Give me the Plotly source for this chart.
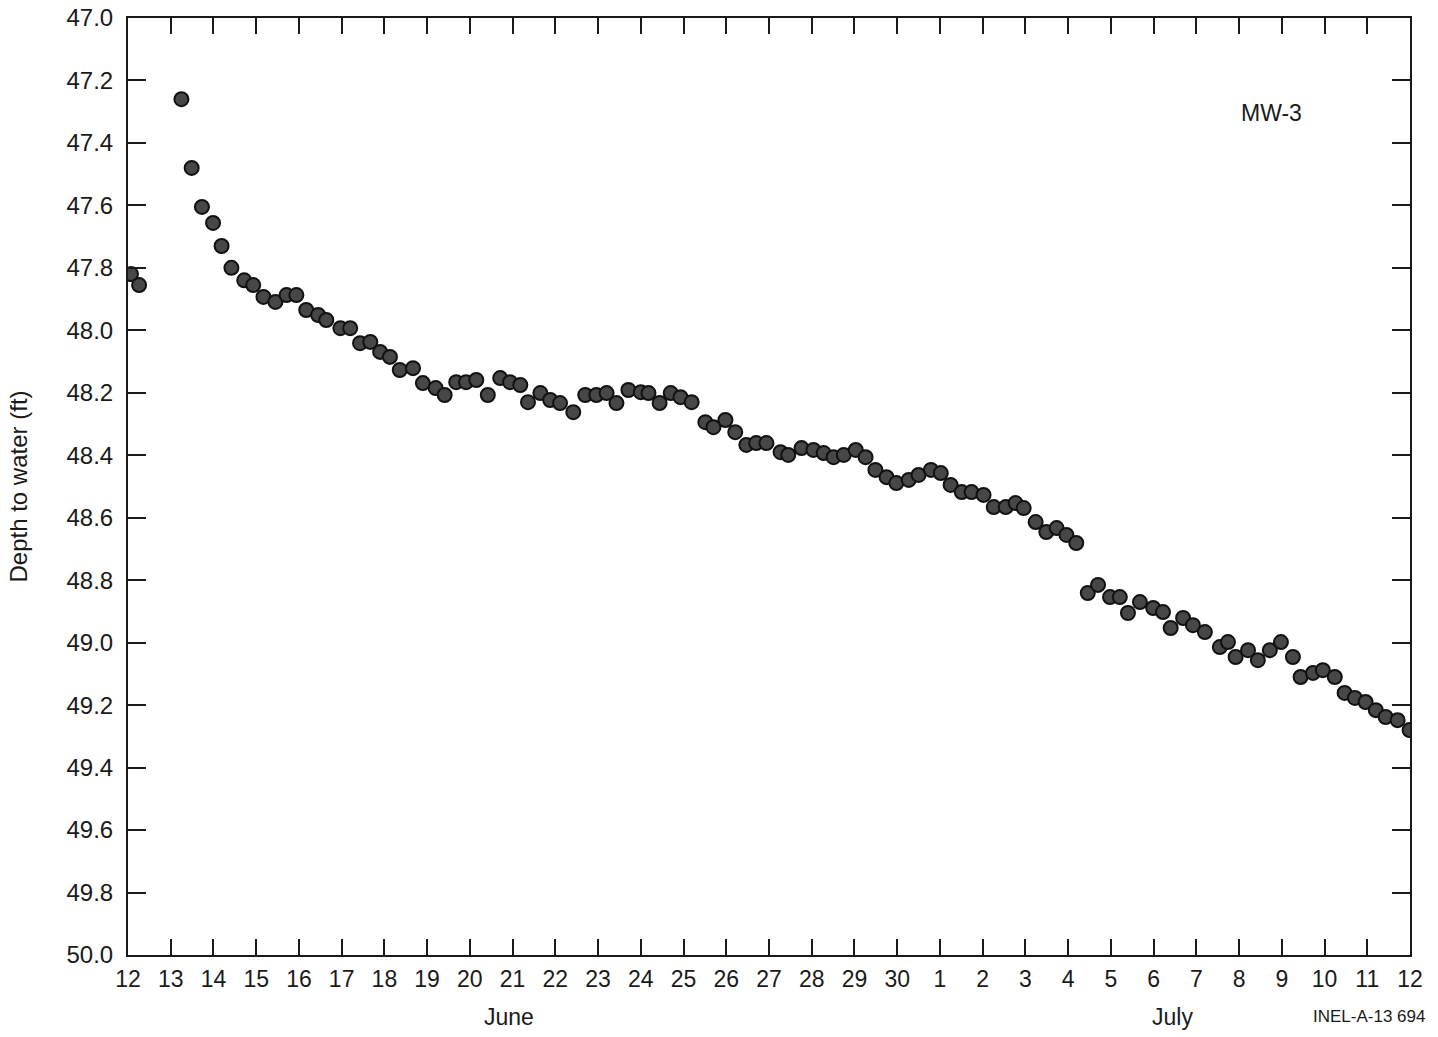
import plotly.graph_objects as go

# Days elapsed since June 12 (0 = June 12, 18 = June 30, 19 = July 1, 30 = July 12)
day_offset = [
    0.07, 0.26, 1.25, 1.49, 1.73, 1.99, 2.19, 2.42, 2.72, 2.93,
    3.17, 3.45, 3.71, 3.94, 4.17, 4.45, 4.64, 4.97, 5.20, 5.43,
    5.67, 5.90, 6.13, 6.36, 6.67, 6.90, 7.20, 7.41, 7.68, 7.91,
    8.15, 8.42, 8.71, 8.94, 9.18, 9.36, 9.65, 9.88, 10.11, 10.42,
    10.70, 10.96, 11.20, 11.43, 11.71, 12.00, 12.18, 12.44, 12.70, 12.93,
    13.19, 13.51, 13.70, 13.98, 14.21, 14.47, 14.70, 14.94, 15.27, 15.45,
    15.76, 16.04, 16.28, 16.51, 16.75, 17.03, 17.26, 17.49, 17.75, 17.98,
    18.27, 18.50, 18.79, 19.02, 19.25, 19.51, 19.74, 20.02, 20.26, 20.54,
    20.77, 20.96, 21.24, 21.49, 21.73, 21.96, 22.19, 22.46, 22.70, 22.98,
    23.21, 23.40, 23.68, 23.99, 24.22, 24.40, 24.69, 24.92, 25.20, 25.55,
    25.74, 25.92, 26.21, 26.44, 26.72, 26.98, 27.26, 27.44, 27.73, 27.96,
    28.24, 28.47, 28.71, 28.96, 29.20, 29.43, 29.71, 29.99,
]
depth_ft = [
    47.82, 47.855, 47.26, 47.48, 47.605, 47.656, 47.73, 47.80, 47.84, 47.855,
    47.893, 47.909, 47.887, 47.887, 47.935, 47.951, 47.967, 47.993, 47.993, 48.041,
    48.037, 48.069, 48.085, 48.127, 48.121, 48.169, 48.185, 48.207, 48.166, 48.166,
    48.159, 48.207, 48.153, 48.166, 48.175, 48.230, 48.201, 48.223, 48.233, 48.262,
    48.207, 48.207, 48.201, 48.233, 48.191, 48.198, 48.201, 48.233, 48.201, 48.214,
    48.230, 48.294, 48.310, 48.287, 48.326, 48.367, 48.361, 48.361, 48.390, 48.399,
    48.377, 48.383, 48.393, 48.406, 48.399, 48.383, 48.406, 48.447, 48.470, 48.489,
    48.479, 48.463, 48.447, 48.457, 48.495, 48.518, 48.518, 48.527, 48.566, 48.566,
    48.553, 48.569, 48.614, 48.646, 48.633, 48.655, 48.681, 48.841, 48.815, 48.854,
    48.854, 48.905, 48.870, 48.889, 48.902, 48.953, 48.921, 48.944, 48.966, 49.014,
    48.998, 49.046, 49.024, 49.056, 49.024, 48.998, 49.046, 49.110, 49.097, 49.088,
    49.110, 49.161, 49.177, 49.190, 49.216, 49.238, 49.248, 49.280,
]

x_tick_vals = list(range(0, 31))
x_tick_text = [str(d) for d in range(12, 31)] + [str(d) for d in range(1, 13)]
y_tick_vals = [47.0, 47.2, 47.4, 47.6, 47.8, 48.0, 48.2, 48.4, 48.6, 48.8,
               49.0, 49.2, 49.4, 49.6, 49.8, 50.0]
y_tick_text = [f"{v:.1f}" for v in y_tick_vals]

FONT = "Liberation Sans, Arial, sans-serif"
INK = "#1a1a1a"

fig = go.Figure()
fig.add_trace(go.Scatter(
    x=day_offset, y=depth_ft, mode="markers",
    marker=dict(size=14, color="#474747", line=dict(color="#111111", width=2)),
    showlegend=False, hoverinfo="x+y",
))

fig.update_layout(
    width=1438, height=1037,
    margin=dict(l=128, r=28, t=18, b=82),
    paper_bgcolor="white", plot_bgcolor="white",
    font=dict(family=FONT, color=INK, size=22),
)
fig.update_xaxes(
    range=[0, 30], tickmode="array", tickvals=x_tick_vals, ticktext=x_tick_text,
    ticks="inside", ticklen=16, tickwidth=1.5, tickcolor=INK,
    showline=True, linecolor=INK, linewidth=2, mirror="allticks",
    showgrid=False, zeroline=False, tickfont=dict(size=23, color=INK),
    ticklabelstandoff=2, automargin=False,
)
fig.update_yaxes(
    range=[50.0, 47.0], tickmode="array", tickvals=y_tick_vals, ticktext=y_tick_text,
    ticks="inside", ticklen=18, tickwidth=1.5, tickcolor=INK,
    showline=True, linecolor=INK, linewidth=2, mirror="allticks",
    showgrid=False, zeroline=False, tickfont=dict(size=24, color=INK),
    title=dict(text="Depth to water (ft)", font=dict(size=24, color=INK), standoff=32),
    ticklabelstandoff=8, automargin=False,
)

fig.add_annotation(text="MW-3", x=0.892, y=0.899, xref="paper", yref="paper",
                   showarrow=False, font=dict(size=23, color=INK),
                   xanchor="center", yanchor="middle")
fig.add_annotation(text="June", x=0.297, y=-0.066, xref="paper", yref="paper",
                   showarrow=False, font=dict(size=23, color=INK),
                   xanchor="center", yanchor="middle")
fig.add_annotation(text="July", x=0.815, y=-0.066, xref="paper", yref="paper",
                   showarrow=False, font=dict(size=23, color=INK),
                   xanchor="center", yanchor="middle")
fig.add_annotation(text="INEL-A-13 694", x=1.013, y=-0.066, xref="paper", yref="paper",
                   showarrow=False, font=dict(size=17, color=INK),
                   xanchor="right", yanchor="middle")

fig.write_html("out.html")
